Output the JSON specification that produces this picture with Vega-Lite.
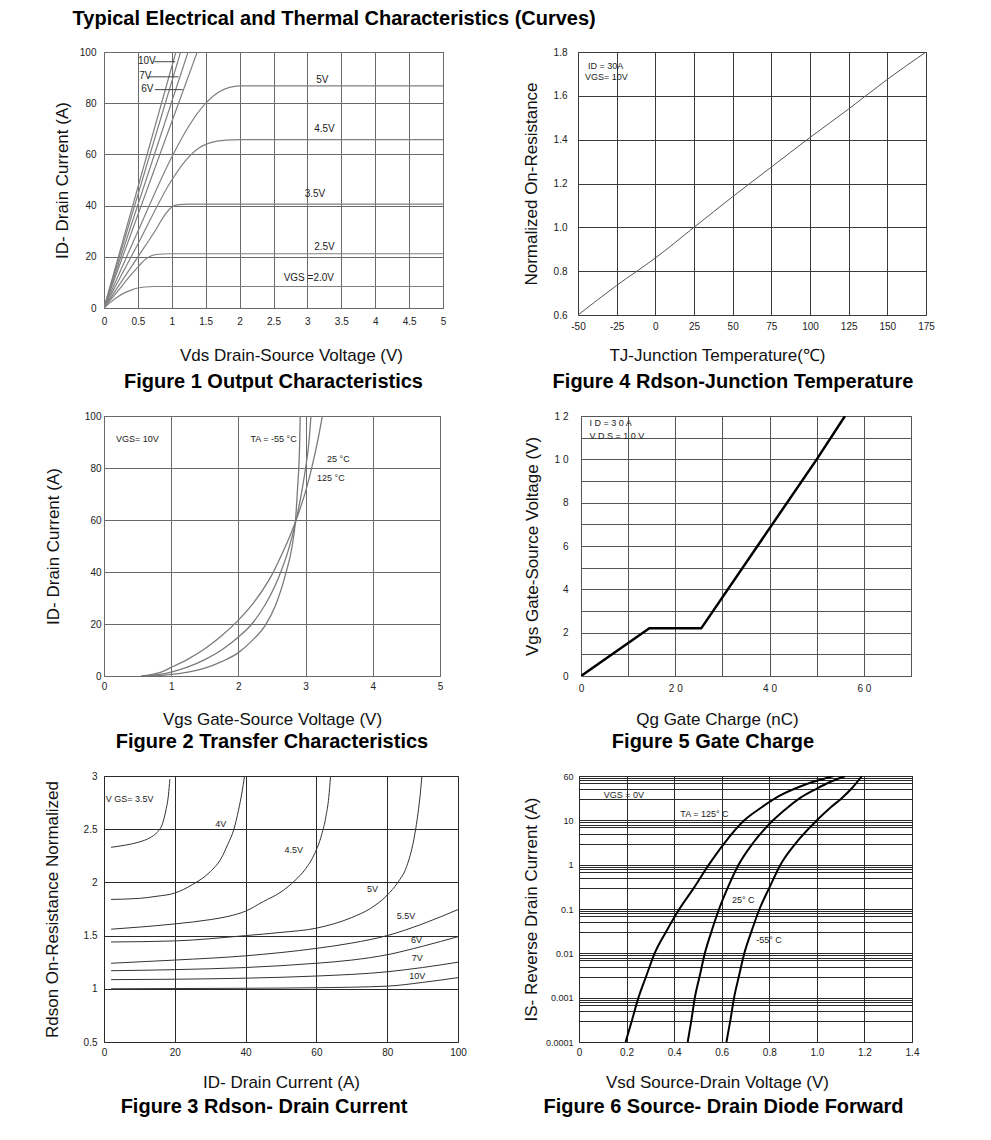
{
"$schema": "https://vega.github.io/schema/vega-lite/v6.json",
"padding": {"left": 42, "top": 8, "right": 5, "bottom": 5},
"title": {"text": "Typical Electrical and Thermal Characteristics (Curves)", "anchor": "start", "dx": 30, "offset": 18, "fontSize": 20},
"config": {
 "font": "Liberation Sans",
 "view": {"stroke": "#555", "strokeWidth": 1},
 "axis": {"grid": true, "gridColor": "#4a4a4a", "gridOpacity": 1, "gridWidth": 1, "ticks": false, "domain": false, "labelFontSize": 10, "labelColor": "#222", "labelFlush": false, "labelOverlap": false, "titleFontSize": 17, "titleFontWeight": "normal", "titleColor": "#111"},
 "title": {"fontSize": 20, "fontWeight": "bold", "color": "#000"},
 "text": {"fontSize": 9, "color": "#222"}
},
"datasets": {
 "p1": [
  {"s":"2.0V","x":0,"y":0},{"s":"2.0V","x":0.1,"y":2.3},{"s":"2.0V","x":0.2,"y":4.3},{"s":"2.0V","x":0.3,"y":5.9},{"s":"2.0V","x":0.4,"y":7.0},{"s":"2.0V","x":0.5,"y":7.8},{"s":"2.0V","x":0.6,"y":8.2},{"s":"2.0V","x":0.75,"y":8.4},{"s":"2.0V","x":5,"y":8.4},
  {"s":"2.5V","x":0,"y":0},{"s":"2.5V","x":0.2,"y":6.5},{"s":"2.5V","x":0.4,"y":13},{"s":"2.5V","x":0.5,"y":16},{"s":"2.5V","x":0.6,"y":18.8},{"s":"2.5V","x":0.7,"y":20.4},{"s":"2.5V","x":0.8,"y":21},{"s":"2.5V","x":0.95,"y":21.2},{"s":"2.5V","x":5,"y":21.2},
  {"s":"3.5V","x":0,"y":0},{"s":"3.5V","x":0.25,"y":10},{"s":"3.5V","x":0.5,"y":20},{"s":"3.5V","x":0.75,"y":30},{"s":"3.5V","x":0.9,"y":36.5},{"s":"3.5V","x":1.0,"y":39.5},{"s":"3.5V","x":1.1,"y":40.4},{"s":"3.5V","x":1.25,"y":40.6},{"s":"3.5V","x":5,"y":40.6},
  {"s":"4.5V","x":0,"y":0},{"s":"4.5V","x":0.5,"y":25},{"s":"4.5V","x":1.0,"y":50},{"s":"4.5V","x":1.2,"y":57.5},{"s":"4.5V","x":1.4,"y":62.5},{"s":"4.5V","x":1.6,"y":64.8},{"s":"4.5V","x":1.8,"y":65.6},{"s":"4.5V","x":2.0,"y":65.8},{"s":"4.5V","x":5,"y":65.8},
  {"s":"5V","x":0,"y":0},{"s":"5V","x":0.5,"y":30},{"s":"5V","x":1.0,"y":59},{"s":"5V","x":1.25,"y":71},{"s":"5V","x":1.5,"y":80},{"s":"5V","x":1.7,"y":84.5},{"s":"5V","x":1.85,"y":86.2},{"s":"5V","x":2.0,"y":86.8},{"s":"5V","x":5,"y":86.8},
  {"s":"6V","x":0,"y":0},{"s":"6V","x":0.7,"y":51},{"s":"6V","x":1.375,"y":100},
  {"s":"7V","x":0,"y":0},{"s":"7V","x":0.62,"y":50},{"s":"7V","x":1.24,"y":100},
  {"s":"8V","x":0,"y":0},{"s":"8V","x":0.565,"y":50},{"s":"8V","x":1.13,"y":100},
  {"s":"10V","x":0,"y":0},{"s":"10V","x":0.53,"y":50},{"s":"10V","x":1.06,"y":100}
 ],
 "p1a": [
  {"x":0.74,"x2":1.05,"y":96.2},{"x":0.66,"x2":1.1,"y":90.3},{"x":0.75,"x2":1.16,"y":85.3}
 ],
 "p1t": [
  {"t":"10V","x":0.5,"y":96.4},{"t":"7V","x":0.52,"y":90.5},{"t":"6V","x":0.55,"y":85.5},
  {"t":"5V","x":3.13,"y":89.2},{"t":"4.5V","x":3.1,"y":70.1},{"t":"3.5V","x":2.96,"y":44.5},{"t":"2.5V","x":3.1,"y":24},{"t":"VGS =2.0V","x":2.65,"y":11.8}
 ],
 "p4": [
  {"x":-50,"y":0.6},{"x":-25,"y":0.735},{"x":0,"y":0.86},{"x":25,"y":1.0},{"x":50,"y":1.14},{"x":75,"y":1.275},{"x":100,"y":1.41},{"x":125,"y":1.54},{"x":150,"y":1.675},{"x":175,"y":1.8}
 ],
 "p4t": [
  {"t":"ID = 30A","x":-43.5,"y":1.737},{"t":"VGS= 10V","x":-45.5,"y":1.687}
 ],
 "p2": [
  {"s":"125C","x":0.55,"y":0},{"s":"125C","x":0.7,"y":0.5},{"s":"125C","x":0.85,"y":1.5},{"s":"125C","x":1.0,"y":3.3},{"s":"125C","x":1.25,"y":6.5},{"s":"125C","x":1.5,"y":10.5},{"s":"125C","x":1.75,"y":15.5},{"s":"125C","x":2.0,"y":21.5},{"s":"125C","x":2.25,"y":29},{"s":"125C","x":2.5,"y":39},{"s":"125C","x":2.65,"y":47},{"s":"125C","x":2.8,"y":56},{"s":"125C","x":2.9,"y":63},{"s":"125C","x":3.0,"y":71},{"s":"125C","x":3.1,"y":81},{"s":"125C","x":3.2,"y":93},{"s":"125C","x":3.25,"y":100},
  {"s":"25C","x":0.6,"y":0},{"s":"25C","x":0.8,"y":0.5},{"s":"25C","x":1.0,"y":1.5},{"s":"25C","x":1.25,"y":3.5},{"s":"25C","x":1.5,"y":6.3},{"s":"25C","x":1.75,"y":10},{"s":"25C","x":2.0,"y":15},{"s":"25C","x":2.2,"y":20},{"s":"25C","x":2.4,"y":27.5},{"s":"25C","x":2.6,"y":38},{"s":"25C","x":2.75,"y":49},{"s":"25C","x":2.85,"y":59},{"s":"25C","x":2.95,"y":72},{"s":"25C","x":3.0,"y":80},{"s":"25C","x":3.05,"y":90},{"s":"25C","x":3.08,"y":100},
  {"s":"-55C","x":0.7,"y":0},{"s":"-55C","x":1.0,"y":0.6},{"s":"-55C","x":1.25,"y":1.5},{"s":"-55C","x":1.5,"y":3},{"s":"-55C","x":1.75,"y":5.5},{"s":"-55C","x":2.0,"y":9},{"s":"-55C","x":2.2,"y":13.5},{"s":"-55C","x":2.4,"y":19.5},{"s":"-55C","x":2.55,"y":27},{"s":"-55C","x":2.7,"y":39},{"s":"-55C","x":2.8,"y":50},{"s":"-55C","x":2.85,"y":60},{"s":"-55C","x":2.88,"y":72},{"s":"-55C","x":2.91,"y":88},{"s":"-55C","x":2.92,"y":100}
 ],
 "p2t": [
  {"t":"VGS= 10V","x":0.18,"y":91},{"t":"TA = -55 °C","x":2.18,"y":91},{"t":"25 °C","x":3.32,"y":83.6},{"t":"125 °C","x":3.17,"y":76}
 ],
 "p5": [
  {"x":0,"y":0},{"x":14.5,"y":2.2},{"x":25.5,"y":2.2},{"x":50,"y":10},{"x":56,"y":12}
 ],
 "p5t": [
  {"t":"I D = 3 0 A","x":1.8,"y":11.66},{"t":"V D S  = 1 0 V","x":1.8,"y":11.1}
 ],
 "p3": [
  {"s":"3.5V","x":2,"y":2.33},{"s":"3.5V","x":6,"y":2.35},{"s":"3.5V","x":10,"y":2.38},{"s":"3.5V","x":13,"y":2.42},{"s":"3.5V","x":15,"y":2.47},{"s":"3.5V","x":16.5,"y":2.55},{"s":"3.5V","x":17.5,"y":2.68},{"s":"3.5V","x":18.2,"y":2.82},{"s":"3.5V","x":18.6,"y":2.97},
  {"s":"4V","x":2,"y":1.84},{"s":"4V","x":10,"y":1.85},{"s":"4V","x":15,"y":1.87},{"s":"4V","x":20,"y":1.9},{"s":"4V","x":25,"y":1.98},{"s":"4V","x":30,"y":2.1},{"s":"4V","x":33,"y":2.22},{"s":"4V","x":35,"y":2.36},{"s":"4V","x":36.7,"y":2.5},{"s":"4V","x":38,"y":2.68},{"s":"4V","x":39,"y":2.85},{"s":"4V","x":39.7,"y":3.0},
  {"s":"4.5V","x":2,"y":1.56},{"s":"4.5V","x":10,"y":1.58},{"s":"4.5V","x":20,"y":1.61},{"s":"4.5V","x":30,"y":1.65},{"s":"4.5V","x":35,"y":1.68},{"s":"4.5V","x":40,"y":1.73},{"s":"4.5V","x":45,"y":1.82},{"s":"4.5V","x":50,"y":1.91},{"s":"4.5V","x":54,"y":2.02},{"s":"4.5V","x":57,"y":2.13},{"s":"4.5V","x":59.5,"y":2.27},{"s":"4.5V","x":61.5,"y":2.45},{"s":"4.5V","x":62.7,"y":2.62},{"s":"4.5V","x":63.5,"y":2.8},{"s":"4.5V","x":64,"y":3.0},
  {"s":"5V","x":2,"y":1.44},{"s":"5V","x":20,"y":1.45},{"s":"5V","x":40,"y":1.5},{"s":"5V","x":50,"y":1.53},{"s":"5V","x":60,"y":1.57},{"s":"5V","x":70,"y":1.67},{"s":"5V","x":75,"y":1.75},{"s":"5V","x":80,"y":1.88},{"s":"5V","x":83,"y":2.0},{"s":"5V","x":85.5,"y":2.15},{"s":"5V","x":87.5,"y":2.4},{"s":"5V","x":88.7,"y":2.65},{"s":"5V","x":89.4,"y":2.85},{"s":"5V","x":89.8,"y":3.0},
  {"s":"5.5V","x":2,"y":1.24},{"s":"5.5V","x":20,"y":1.27},{"s":"5.5V","x":40,"y":1.31},{"s":"5.5V","x":60,"y":1.38},{"s":"5.5V","x":70,"y":1.43},{"s":"5.5V","x":80,"y":1.5},{"s":"5.5V","x":90,"y":1.61},{"s":"5.5V","x":100,"y":1.745},
  {"s":"6V","x":2,"y":1.17},{"s":"6V","x":20,"y":1.18},{"s":"6V","x":40,"y":1.2},{"s":"6V","x":60,"y":1.24},{"s":"6V","x":70,"y":1.27},{"s":"6V","x":80,"y":1.32},{"s":"6V","x":90,"y":1.4},{"s":"6V","x":100,"y":1.49},
  {"s":"7V","x":2,"y":1.086},{"s":"7V","x":20,"y":1.09},{"s":"7V","x":40,"y":1.1},{"s":"7V","x":60,"y":1.12},{"s":"7V","x":80,"y":1.16},{"s":"7V","x":90,"y":1.2},{"s":"7V","x":100,"y":1.25},
  {"s":"10V","x":2,"y":1.0},{"s":"10V","x":40,"y":1.005},{"s":"10V","x":60,"y":1.01},{"s":"10V","x":80,"y":1.025},{"s":"10V","x":90,"y":1.06},{"s":"10V","x":100,"y":1.105}
 ],
 "p3t": [
  {"t":"V GS= 3.5V","x":0.5,"y":2.785},{"t":"4V","x":31.4,"y":2.55},{"t":"4.5V","x":51,"y":2.3},{"t":"5V","x":74.3,"y":1.935},{"t":"5.5V","x":82.7,"y":1.687},{"t":"6V","x":86.7,"y":1.455},{"t":"7V","x":86.9,"y":1.293},{"t":"10V","x":86.2,"y":1.118}
 ],
 "p6": [
  {"s":"125C","x":0.196,"y":0.0001},{"s":"125C","x":0.222,"y":0.0003},{"s":"125C","x":0.25,"y":0.001},{"s":"125C","x":0.282,"y":0.003},{"s":"125C","x":0.318,"y":0.01},{"s":"125C","x":0.365,"y":0.03},{"s":"125C","x":0.422,"y":0.1},{"s":"125C","x":0.483,"y":0.3},{"s":"125C","x":0.546,"y":1},{"s":"125C","x":0.61,"y":3},{"s":"125C","x":0.695,"y":10},{"s":"125C","x":0.77,"y":20},{"s":"125C","x":0.84,"y":35},{"s":"125C","x":0.93,"y":58},{"s":"125C","x":1.0,"y":78},{"s":"125C","x":1.07,"y":100},
  {"s":"25C","x":0.457,"y":0.0001},{"s":"25C","x":0.472,"y":0.0003},{"s":"25C","x":0.487,"y":0.001},{"s":"25C","x":0.507,"y":0.003},{"s":"25C","x":0.529,"y":0.01},{"s":"25C","x":0.556,"y":0.03},{"s":"25C","x":0.589,"y":0.1},{"s":"25C","x":0.625,"y":0.3},{"s":"25C","x":0.671,"y":1},{"s":"25C","x":0.73,"y":3},{"s":"25C","x":0.816,"y":10},{"s":"25C","x":0.88,"y":20},{"s":"25C","x":0.93,"y":32},{"s":"25C","x":1.0,"y":52},{"s":"25C","x":1.06,"y":75},{"s":"25C","x":1.12,"y":100},
  {"s":"-55C","x":0.62,"y":0.0001},{"s":"-55C","x":0.636,"y":0.0003},{"s":"-55C","x":0.652,"y":0.001},{"s":"-55C","x":0.672,"y":0.003},{"s":"-55C","x":0.695,"y":0.01},{"s":"-55C","x":0.724,"y":0.03},{"s":"-55C","x":0.759,"y":0.1},{"s":"-55C","x":0.8,"y":0.3},{"s":"-55C","x":0.847,"y":1},{"s":"-55C","x":0.91,"y":3},{"s":"-55C","x":1.0,"y":10},{"s":"-55C","x":1.06,"y":20},{"s":"-55C","x":1.1,"y":30},{"s":"-55C","x":1.15,"y":55},{"s":"-55C","x":1.19,"y":100}
 ],
 "p6t": [
  {"t":"VGS = 0V","x":0.104,"y":37.9},{"t":"TA = 125° C","x":0.426,"y":14.1},{"t":"25° C","x":0.643,"y":0.16},{"t":"-55° C","x":0.745,"y":0.02}
 ]
},
"spacing": 17,
"vconcat": [
 {"hconcat": [
  {
   "width": 339, "height": 256,
   "title": {"text": "Figure 1 Output Characteristics", "orient": "bottom", "frame": "group", "offset": 9},
   "encoding": {
    "x": {"field": "x", "type": "quantitative", "scale": {"domain": [0, 5], "nice": false, "zero": false},
     "axis": {"values": [0, 0.5, 1, 1.5, 2, 2.5, 3, 3.5, 4, 4.5, 5], "format": "~g", "title": "Vds Drain-Source Voltage (V)", "labelPadding": 8, "titleX": 187, "titleY": 39, "gridColor": "#6a6a6a"}},
    "y": {"field": "y", "type": "quantitative", "scale": {"domain": [0, 100], "nice": false},
     "axis": {"values": [0, 20, 40, 60, 80, 100], "title": "ID- Drain Current (A)", "labelPadding": 8, "titlePadding": 8, "gridColor": "#6a6a6a"}}
   },
   "layer": [
    {"data": {"name": "p1"}, "mark": {"type": "line", "color": "#808080", "strokeWidth": 1.2, "clip": true, "interpolate": "monotone"}, "encoding": {"detail": {"field": "s"}}},
    {"data": {"name": "p1a"}, "mark": {"type": "rule", "color": "#444", "strokeWidth": 1}, "encoding": {"x2": {"field": "x2"}}},
    {"data": {"name": "p1t"}, "mark": {"type": "text", "align": "left", "baseline": "middle", "fontSize": 10}, "encoding": {"text": {"field": "t"}}}
   ]
  },
  {
   "width": 348, "height": 263,
   "title": {"text": "Figure 4 Rdson-Junction Temperature", "orient": "bottom", "frame": "group", "offset": 9, "dx": -19},
   "encoding": {
    "x": {"field": "x", "type": "quantitative", "scale": {"domain": [-50, 175], "nice": false, "zero": false},
     "axis": {"values": [-50, -25, 0, 25, 50, 75, 100, 125, 150, 175], "labelExpr": "'' + datum.value", "title": "TJ-Junction Temperature(℃)", "labelPadding": 6, "titleX": 139, "titleY": 32, "gridColor": "#3a3a3a"}},
    "y": {"field": "y", "type": "quantitative", "scale": {"domain": [0.6, 1.8], "nice": false, "zero": false},
     "axis": {"values": [0.6, 0.8, 1.0, 1.2, 1.4, 1.6, 1.8], "format": ".1f", "title": "Normalized On-Resistance", "labelPadding": 11, "titlePadding": 13, "gridColor": "#3a3a3a"}}
   },
   "layer": [
    {"data": {"name": "p4"}, "mark": {"type": "line", "color": "#555", "strokeWidth": 1, "clip": true, "interpolate": "monotone"}},
    {"data": {"name": "p4t"}, "mark": {"type": "text", "align": "left", "baseline": "middle", "fontSize": 9}, "encoding": {"text": {"field": "t"}}}
   ]
  }
 ], "spacing": 74},
 {"hconcat": [
  {
   "width": 336, "height": 260,
   "title": {"text": "Figure 2 Transfer Characteristics", "orient": "bottom", "frame": "group", "offset": 5},
   "encoding": {
    "x": {"field": "x", "type": "quantitative", "scale": {"domain": [0, 5], "nice": false, "zero": false},
     "axis": {"values": [0, 1, 2, 3, 4, 5], "title": "Vgs Gate-Source Voltage (V)", "labelPadding": 5, "titlePadding": 20, "gridColor": "#6a6a6a"}},
    "y": {"field": "y", "type": "quantitative", "scale": {"domain": [0, 100], "nice": false},
     "axis": {"values": [0, 20, 40, 60, 80, 100], "title": "ID- Drain Current (A)", "labelPadding": 3, "titlePadding": 22, "gridColor": "#6a6a6a"}}
   },
   "layer": [
    {"data": {"name": "p2"}, "mark": {"type": "line", "color": "#7a7a7a", "strokeWidth": 1.3, "clip": true, "interpolate": "monotone"}, "encoding": {"detail": {"field": "s"}}},
    {"data": {"name": "p2t"}, "mark": {"type": "text", "align": "left", "baseline": "middle", "fontSize": 9}, "encoding": {"text": {"field": "t"}}}
   ]
  },
  {
   "width": 330, "height": 260,
   "title": {"text": "Figure 5 Gate Charge", "orient": "bottom", "frame": "group", "offset": 5, "dx": -33},
   "encoding": {
    "x": {"field": "x", "type": "quantitative", "scale": {"domain": [0, 70], "nice": false, "zero": false},
     "axis": {"values": [0, 10, 20, 30, 40, 50, 60, 70], "labelExpr": "datum.value == 0 ? '0' : datum.value == 20 ? '2 0' : datum.value == 40 ? '4 0' : datum.value == 60 ? '6 0' : ''", "title": "Qg Gate Charge (nC)", "labelPadding": 7, "titleX": 136, "titleY": 35, "gridColor": "#555"}},
    "y": {"field": "y", "type": "quantitative", "scale": {"domain": [0, 12], "nice": false},
     "axis": {"values": [0, 1, 2, 3, 4, 5, 6, 7, 8, 9, 10, 11, 12], "labelExpr": "datum.value == 10 ? '1 0' : datum.value == 12 ? '1 2' : datum.value % 2 == 0 ? datum.label : ''", "title": "Vgs Gate-Source Voltage (V)", "labelPadding": 13, "titlePadding": 13, "gridColor": "#555"}}
   },
   "layer": [
    {"data": {"name": "p5"}, "mark": {"type": "line", "color": "#000", "strokeWidth": 2.5, "clip": true}},
    {"data": {"name": "p5t"}, "mark": {"type": "text", "align": "left", "baseline": "middle", "fontSize": 9}, "encoding": {"text": {"field": "t"}}}
   ]
  }
 ], "spacing": 78},
 {"hconcat": [
  {
   "width": 354, "height": 266,
   "title": {"text": "Figure 3 Rdson- Drain Current", "orient": "bottom", "frame": "group", "offset": 7, "dx": -17},
   "encoding": {
    "x": {"field": "x", "type": "quantitative", "scale": {"domain": [0, 100], "nice": false, "zero": false},
     "axis": {"values": [0, 20, 40, 60, 80, 100], "title": "ID- Drain Current (A)", "labelPadding": 5, "titlePadding": 17, "gridColor": "#2a2a2a"}},
    "y": {"field": "y", "type": "quantitative", "scale": {"domain": [0.5, 3], "nice": false, "zero": false},
     "axis": {"values": [0.5, 1, 1.5, 2, 2.5, 3], "format": "~g", "title": "Rdson On-Resistance Normalized", "labelPadding": 7, "titlePadding": 22, "gridColor": "#2a2a2a"}}
   },
   "layer": [
    {"data": {"name": "p3"}, "mark": {"type": "line", "color": "#333", "strokeWidth": 1, "clip": true, "interpolate": "monotone"}, "encoding": {"detail": {"field": "s"}}},
    {"data": {"name": "p3t"}, "mark": {"type": "text", "align": "left", "baseline": "middle", "fontSize": 9}, "encoding": {"text": {"field": "t"}}}
   ]
  },
  {
   "width": 333, "height": 266,
   "title": {"text": "Figure 6 Source- Drain Diode Forward", "orient": "bottom", "frame": "group", "offset": 7, "dx": -22},
   "encoding": {
    "x": {"field": "x", "type": "quantitative", "scale": {"domain": [0, 1.4], "nice": false, "zero": false},
     "axis": {"values": [0, 0.2, 0.4, 0.6, 0.8, 1.0, 1.2, 1.4], "labelExpr": "datum.value == 0 ? '0' : format(datum.value, '.1f')", "title": "Vsd Source-Drain Voltage (V)", "labelPadding": 5, "titleX": 138, "titleY": 32, "gridColor": "#2a2a2a"}},
    "y": {"field": "y", "type": "quantitative", "scale": {"type": "log", "domain": [0.0001, 100], "nice": false},
     "axis": {"values": [100, 90, 80, 70, 50, 30, 10, 9, 8, 7, 5, 3, 1, 0.9, 0.8, 0.7, 0.5, 0.3, 0.1, 0.09, 0.08, 0.07, 0.05, 0.03, 0.01, 0.009, 0.008, 0.007, 0.005, 0.003, 0.001, 0.0009, 0.0008, 0.0007, 0.0005, 0.0003, 0.0001],
      "labelExpr": "datum.value == 100 ? '60' : datum.value == 10 ? '10' : datum.value == 1 ? '1' : datum.value == 0.1 ? '0.1' : datum.value == 0.01 ? '0.01' : datum.value == 0.001 ? '0.001' : datum.value == 0.0001 ? '0.0001' : ''",
      "labelFontSize": 9, "title": "IS- Reverse Drain Current (A)", "labelPadding": 6, "titlePadding": 5, "gridColor": "#2a2a2a"}}
   },
   "layer": [
    {"data": {"name": "p6"}, "mark": {"type": "line", "color": "#000", "strokeWidth": 2, "clip": true, "interpolate": "monotone"}, "encoding": {"detail": {"field": "s"}}},
    {"data": {"name": "p6t"}, "mark": {"type": "text", "align": "left", "baseline": "middle", "fontSize": 9}, "encoding": {"text": {"field": "t"}}}
   ]
  }
 ], "spacing": 54}
]
}
